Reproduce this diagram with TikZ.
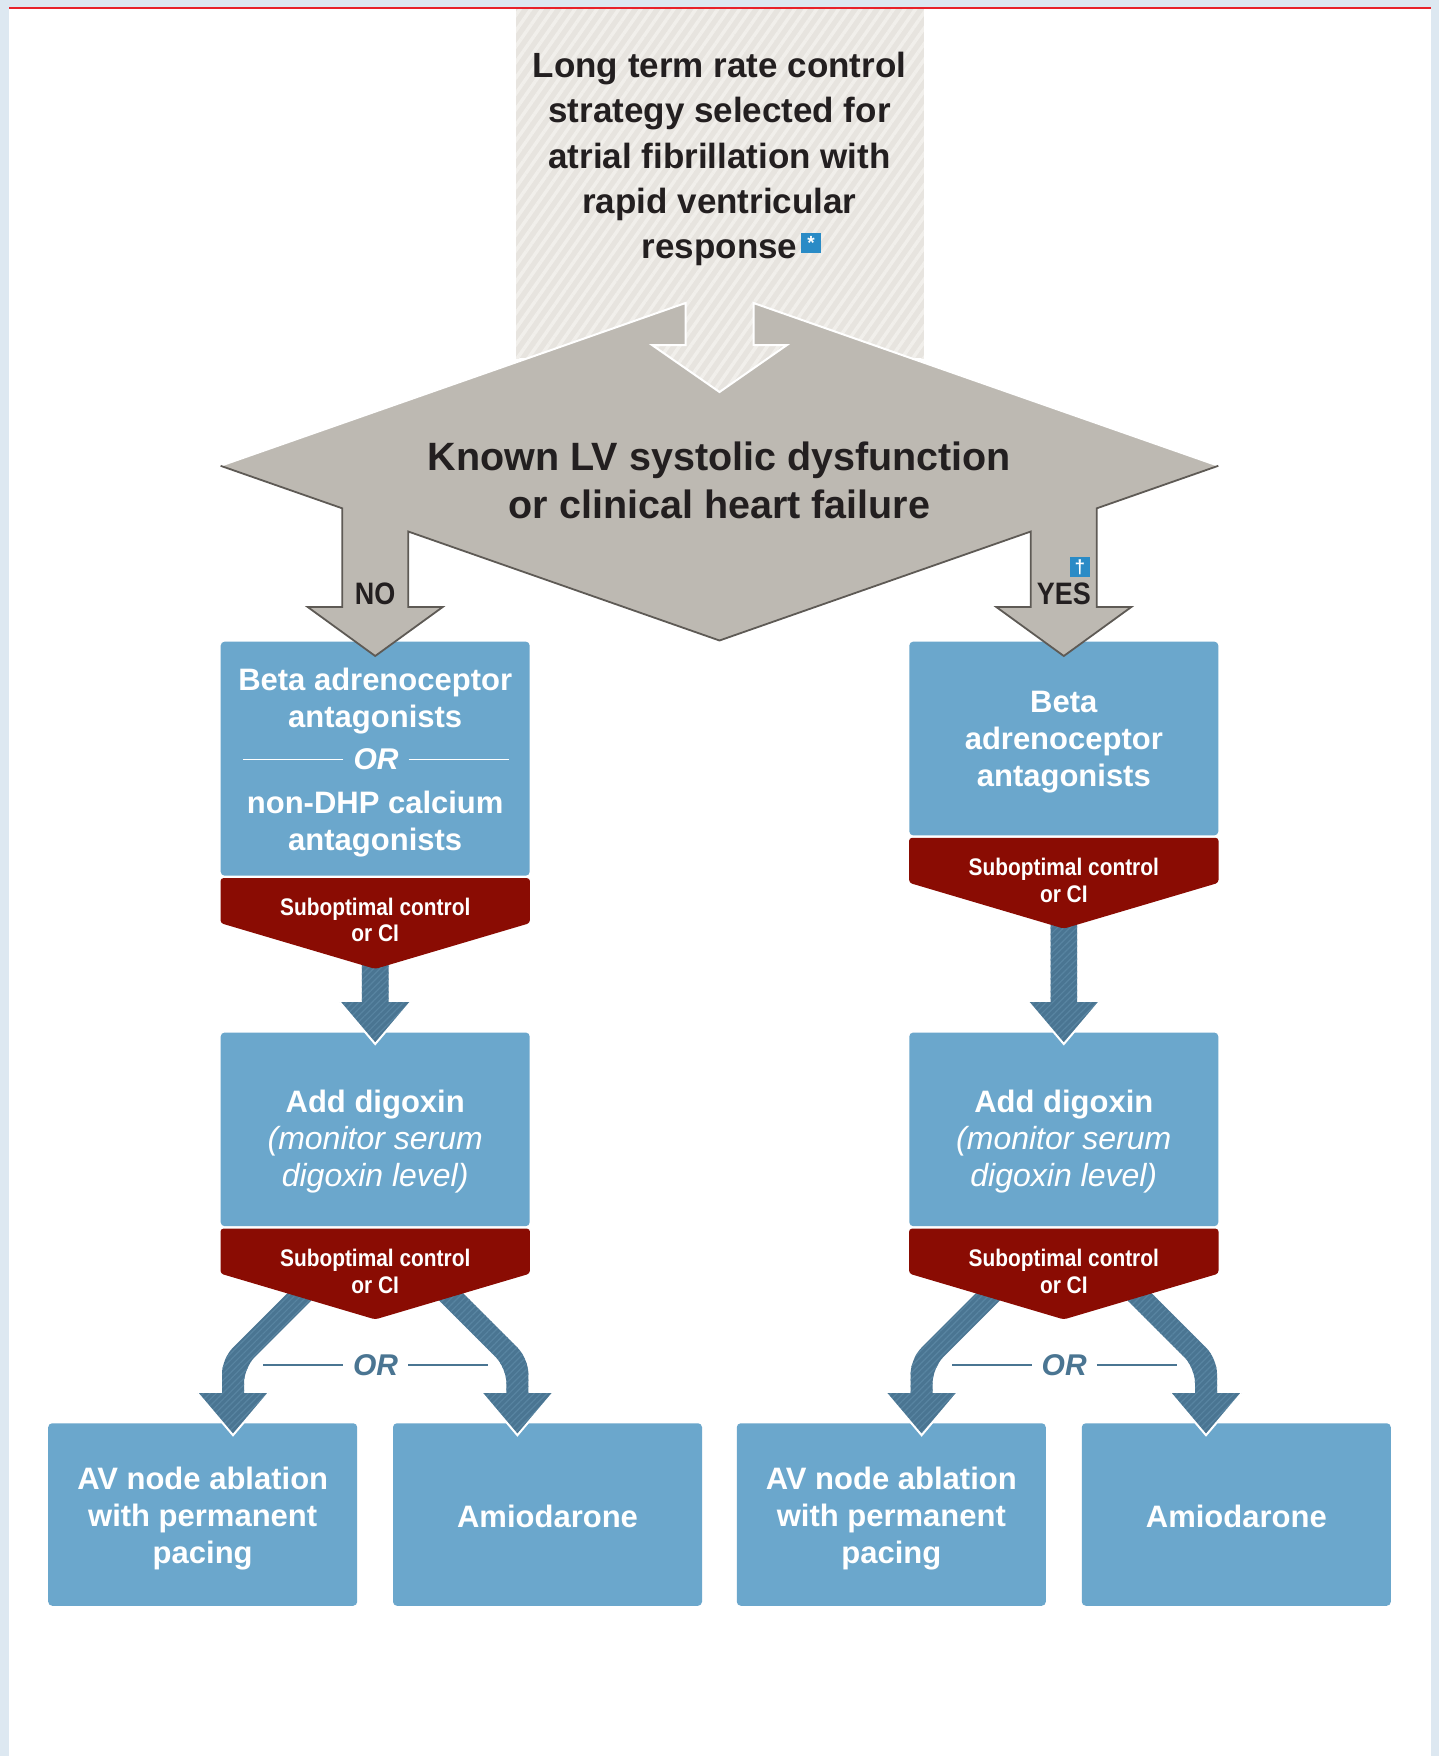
\documentclass[tikz,border=0pt]{standalone}
\usepackage{fontspec}
\setmainfont{Liberation Sans}
\newfontfamily\condf[FakeStretch=0.87]{Liberation Sans}
\usetikzlibrary{calc,patterns.meta}
\definecolor{bgblue}{HTML}{DDE8F1}
\definecolor{topred}{HTML}{E8232B}
\definecolor{hatchbase}{HTML}{E7E4DF}
\definecolor{hatchline}{HTML}{F1EFEB}
\definecolor{dgray}{HTML}{BDB9B2}
\definecolor{dline}{HTML}{5E5A55}
\definecolor{boxblue}{HTML}{6BA7CC}
\definecolor{tabred}{HTML}{8A0C03}
\definecolor{steel}{HTML}{4A7592}
\definecolor{steelhatch}{HTML}{5884A1}
\definecolor{notecol}{HTML}{2A8BC6}
\definecolor{ink}{HTML}{231F20}

\newcommand{\redtabshape}[1]{%
  \fill[redtab] ($(#1.south west)+(0,2.2)$) -- ($(#1.south east)+(0,2.2)$) -- ($(#1.south east)+(0,47.2)$) -- ($(#1.south)+(0,93)$) -- ($(#1.south west)+(0,47.2)$) -- cycle;}
\newcommand{\fatdown}[1]{%
  \path[steelfill] ($(#1.north)+(-13.3,-120)$) -- ($(#1.north)+(-13.3,-30.2)$) -- ($(#1.north)+(-35.5,-30.2)$) -- ($(#1.north)+(0,11.7)$) -- ($(#1.north)+(35.5,-30.2)$) -- ($(#1.north)+(13.3,-30.2)$) -- ($(#1.north)+(13.3,-120)$) -- cycle;
  \draw[white,line width=2pt,line join=miter] ($(#1.north)+(-35.5,-30.2)$) -- ($(#1.north)+(0,11.7)$) -- ($(#1.north)+(35.5,-30.2)$);}
\newcommand{\curvefat}[2]{%
  \path[steelfill,rounded corners=15pt] ($(#1.south)+(#2*68,47)$) -- ($(#1.south)+(#2*153.2,132.2)$) -- ($(#1.south)+(#2*153.2,186)$) -- ($(#1.south)+(#2*131.2,186)$) -- ($(#1.south)+(#2*131.2,141.4)$) -- ($(#1.south)+(#2*52.4,62.6)$) -- cycle;
  \path[steelfill] ($(#1.south)+(#2*177.7,166.8)$) -- ($(#1.south)+(#2*142.2,208.8)$) -- ($(#1.south)+(#2*106.7,166.8)$) -- cycle;
  \draw[white,line width=2pt] ($(#1.south)+(#2*177.7,166.8)$) -- ($(#1.south)+(#2*142.2,208.8)$) -- ($(#1.south)+(#2*106.7,166.8)$);}
\newcommand{\orlines}[3]{%
  \draw[#2,line width=1.6pt] ($(#1.west)+(-10,0)$) -- ($(#1.west)+(-10-#3,0)$);
  \draw[#2,line width=1.6pt] ($(#1.east)+(10,0)$) -- ($(#1.east)+(10+#3,0)$);}
\newcommand{\itl}{\mdseries\itshape\fontsize{32}{37}\selectfont}

\begin{document}
\begin{tikzpicture}[x=1pt,y=-1pt,
  bluebox/.style={rectangle,rounded corners=4pt,fill=boxblue,inner sep=0pt,minimum width=309pt},
  boxtext/.style={text=white,align=center,inner sep=0pt,font=\bfseries\fontsize{31}{37}\selectfont},
  redtext/.style={text=white,align=center,inner sep=0pt,font=\condf\bfseries\fontsize{24}{26.5}\selectfont},
  ortext/.style={inner sep=0pt,font=\bfseries\itshape\fontsize{30}{30}\selectfont},
  yntext/.style={text=ink,inner sep=0pt,font=\condf\bfseries\fontsize{31}{31}\selectfont},
  notebox/.style={fill=notecol,text=white,minimum size=20pt,inner sep=0pt,font=\bfseries\fontsize{19}{19}\selectfont},
  steelfill/.style={preaction={fill=steel},pattern={Lines[angle=45,distance=4.5pt,line width=1.2pt]},pattern color=steelhatch},
  hatchfill/.style={preaction={fill=hatchbase},pattern={Lines[angle=55,distance=9pt,line width=3.5pt]},pattern color=hatchline},
  redtab/.style={fill=tabred,rounded corners=3pt}]
\useasboundingbox (0,0) rectangle (1439,1756);
% frame
\fill[bgblue] (0,0) rectangle (1439,1756);
\fill[white] (9,9) rectangle (1431,1756);
\fill[topred] (9,6.8) rectangle (1431,9.2);
% hatched start panel
\path[hatchfill] (516.2,9.2) rectangle (923.8,358);
\path[hatchfill] (685.5,290) -- (685.5,345) -- (652,345) -- (719.5,392) -- (787,345) -- (753.5,345) -- (753.5,290) -- cycle;
% blue boxes
\node[bluebox,minimum height=234.1pt] (b1l) at (375.2,758.65) {};
\node[bluebox,minimum height=193.8pt] (b1r) at (1063.8,738.5) {};
\node[bluebox,minimum height=193.7pt] (b2l) at (375.2,1129.35) {};
\node[bluebox,minimum height=193.7pt] (b2r) at (1063.8,1129.35) {};
\node[bluebox,minimum height=182.5pt] (b3a) at (202.7,1514.5) {};
\node[bluebox,minimum height=182.5pt] (b3b) at (547.5,1514.5) {};
\node[bluebox,minimum height=182.5pt] (b3c) at (891.3,1514.5) {};
\node[bluebox,minimum height=182.5pt] (b3d) at (1236.3,1514.5) {};
% decision shape
\fill[dgray,rounded corners=1.5pt] (220.6,465.8) -- (685.5,303) -- (685.5,345) -- (652,345) -- (719.5,392) -- (787,345) -- (753.5,345) -- (753.5,303) -- (1218.3,465.8)
  -- (1096.8,508.3) -- (1096.8,607) -- (1131.3,607) -- (1063.8,656) -- (996.3,607) -- (1030.8,607) -- (1030.8,531.5)
  -- (719.5,640.5) -- (408.2,531.5) -- (408.2,607) -- (442.7,607) -- (375.2,656) -- (307.7,607) -- (342.2,607) -- (342.2,508.3) -- cycle;
\draw[white,line width=2pt,line join=miter] (220.6,465.8) -- (685.5,303) -- (685.5,345) -- (652,345) -- (719.5,392) -- (787,345) -- (753.5,345) -- (753.5,303) -- (1218.3,465.8);
\draw[dline,line width=1.8pt,line join=miter] (1218.3,465.8)
  -- (1096.8,508.3) -- (1096.8,607) -- (1131.3,607) -- (1063.8,656) -- (996.3,607) -- (1030.8,607) -- (1030.8,531.5)
  -- (719.5,640.5) -- (408.2,531.5) -- (408.2,607) -- (442.7,607) -- (375.2,656) -- (307.7,607) -- (342.2,607) -- (342.2,508.3) -- (220.6,465.8);
% steel arrows
\fatdown{b2l}
\fatdown{b2r}
\curvefat{b2l}{-1}
\curvefat{b2l}{1}
\curvefat{b2r}{-1}
\curvefat{b2r}{1}
% red tabs
\redtabshape{b1l}
\redtabshape{b1r}
\redtabshape{b2l}
\redtabshape{b2r}
% texts
\node[align=center,text=ink,inner sep=0pt,font=\bfseries\fontsize{35}{45.4}\selectfont] (top) at (719.5,159) {Long term rate control\\strategy selected for\\atrial fibrillation with\\rapid ventricular\\response};
\node[notebox] (ast) at (811,242.5) {*};
\node[align=center,text=ink,inner sep=0pt,font=\bfseries\fontsize{39.5}{48}\selectfont] (q) at (719.5,480.8) {Known LV systolic dysfunction\\or clinical heart failure};
\node[yntext] (no) at (375.2,593.5) {NO};
\node[yntext] (yes) at (1063.8,593.5) {YES};
\node[notebox] (dag) at (1080,567) {†};
\node[boxtext] (t1l) at (375.2,701.2) {Beta adrenoceptor\\antagonists};
\node[ortext,text=white] (or1) at (376,759.5) {OR};
\orlines{or1}{white}{100}
\node[boxtext] (t1l2) at (375.2,823.8) {non-DHP calcium\\antagonists};
\node[boxtext] (t1r) at (1063.8,742.2) {Beta\\adrenoceptor\\antagonists};
\node[redtext] (r1l) at ($(b1l.south)+(0,44)$) {Suboptimal control\\or CI};
\node[redtext] (r1r) at ($(b1r.south)+(0,45)$) {Suboptimal control\\or CI};
\node[redtext] (r2l) at ($(b2l.south)+(0,45)$) {Suboptimal control\\or CI};
\node[redtext] (r2r) at ($(b2r.south)+(0,45)$) {Suboptimal control\\or CI};
\node[boxtext] (t2l) at (375.2,1141.2) {Add digoxin\\\itl(monitor serum\\\itl digoxin level)};
\node[boxtext] (t2r) at (1063.8,1141.2) {Add digoxin\\\itl(monitor serum\\\itl digoxin level)};
\node[ortext,text=steel] (orl) at (375.6,1365) {OR};
\orlines{orl}{steel}{80}
\node[ortext,text=steel] (orr) at (1064.2,1365) {OR};
\orlines{orr}{steel}{80}
\node[boxtext] (t3a) at (202.7,1518.2) {AV node ablation\\with permanent\\pacing};
\node[boxtext] (t3b) at (547.5,1516) {Amiodarone};
\node[boxtext] (t3c) at (891.3,1518.2) {AV node ablation\\with permanent\\pacing};
\node[boxtext] (t3d) at (1236.3,1516) {Amiodarone};
\end{tikzpicture}
\end{document}
